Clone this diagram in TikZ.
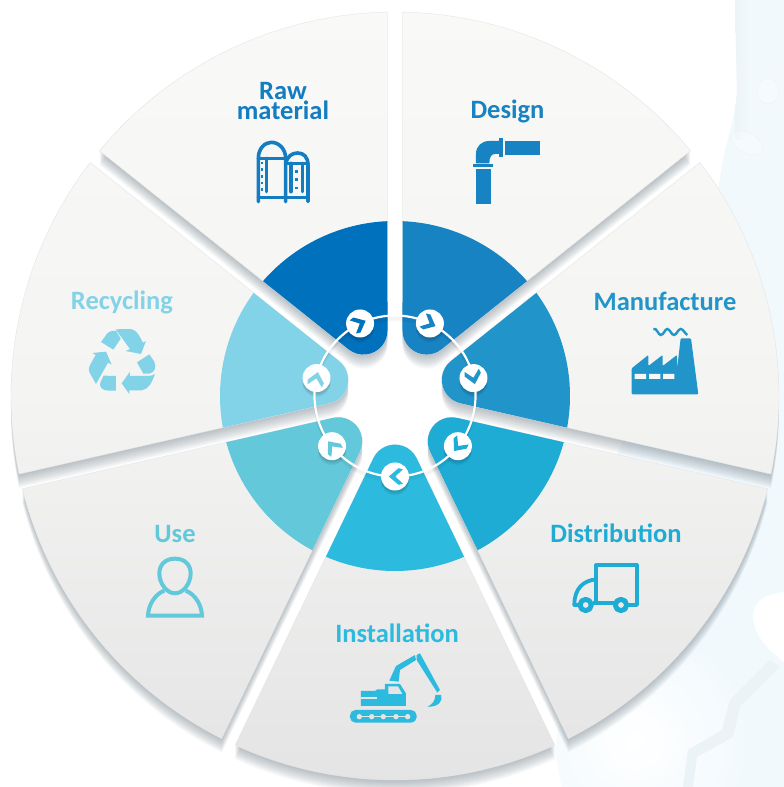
\documentclass[tikz,border=0pt]{standalone}
\usepackage{fontspec}
\setmainfont{Carlito}
\definecolor{cRaw}{HTML}{0071BC}
\definecolor{cDes}{HTML}{1783C3}
\definecolor{cMan}{HTML}{2195C9}
\definecolor{cDis}{HTML}{1EACD5}
\definecolor{cIns}{HTML}{2CBBDE}
\definecolor{cUse}{HTML}{62C8DA}
\definecolor{cRec}{HTML}{83D3E8}
\definecolor{bgblue}{HTML}{F1F9FD}
\definecolor{shadowc}{HTML}{6F7D88}
\definecolor{edgec}{HTML}{E4E5E6}
\definecolor{panelA}{HTML}{F9F9F8}
\definecolor{panelB}{HTML}{F4F4F3}
\definecolor{panelC}{HTML}{E3E4E3}
\newcommand{\wedgepath}[3]{%
 ({#1-25.714+#3}:#2) arc[start angle={#1-25.714+#3},end angle={#1+25.714-#3},radius=#2]
 -- ([shift={({#1+115.714}:24)}]#1:72.6)
 arc[start angle={#1+115.714},end angle={#1+244.286},radius=24] -- cycle}
\tikzset{
 pxc/.style={x=1bp,y=-1bp,shift={(-395bp,396bp)}},
 zm/.style 2 args={x=.33333bp,y=-.33333bp,shift={({(#1-395)*1bp},{(396-#2)*1bp})}},
 lab/.style={font=\bfseries\fontsize{26.5bp}{18bp}\selectfont,align=center,inner sep=0pt},
 hub/.style={circle,fill=white,minimum size=28bp,inner sep=0pt},
}
\begin{document}
\begin{tikzpicture}[x=1bp,y=1bp]
\path[use as bounding box,fill=white] (-395,396) rectangle (389,-391);
% background wash
\begin{scope}[pxc]
 \begin{scope}
  \clip (735,0) -- (737,90) .. controls (736,115) and (728,135) .. (722,165) -- (718,190) -- (600,500) -- (555,750) -- (562,787) -- (784,787) -- (784,0) -- cycle;
  \fill[bgblue] (500,0) rectangle (784,787);
  \shade[left color=black!2!bgblue,right color=bgblue] (735,0) rectangle (750,140);
  \shade[inner color=white,outer color=bgblue] (635,740) circle[radius=120];
  \fill[white] (784,592) .. controls (760,595) and (752,605) .. (753,618) .. controls (755,640) and (775,655) .. (784,662) -- cycle;
  \fill[black!2.5!bgblue] (780,667) -- (740,707) -- (733,737) -- (697,757) -- (693,787) -- (683,787) -- (688,750) -- (722,730) -- (730,700) -- (770,660) -- cycle;
 \end{scope}
 \draw[black!5,line width=.5bp,fill=white,fill opacity=.25] (768,91) ellipse[x radius=11,y radius=13];
 \draw[black!5,line width=.5bp,fill=white,fill opacity=.25,rotate around={-30:(747,143)}] (747,143) ellipse[x radius=17,y radius=10];
\end{scope}
% extruded shadows below all wedges
\foreach \m in {115.714,64.286,12.857,-38.571,-90,-141.429,-192.857}{
 \foreach \k in {1,...,14}{
  \fill[shadowc,opacity=.04,shift={(0,-\k)}] \wedgepath{\m}{384}{1.12};
 }
}
% grey panels with one shared vertical gradient
\foreach \m in {115.714,64.286,12.857,-38.571,-90,-141.429,-192.857}{
 \begin{scope}
  \clip \wedgepath{\m}{384}{1.12};
  \shade[top color=panelA,bottom color=panelC,middle color=panelB] (-395,396) rectangle (389,-391);
 \end{scope}
 \draw[edgec,line width=.4] \wedgepath{\m}{384}{1.12};
}
% coloured inner parts
\foreach \m/\c in {115.714/cRaw,64.286/cDes,12.857/cMan,-38.571/cDis,-90/cIns,-141.429/cUse,-192.857/cRec}{
 \fill[\c] \wedgepath{\m}{175}{2.46};
}
% ring and hubs
\foreach \k in {1,...,5}{
 \draw[black,opacity=.02,line width=2,shift={(0,-\k)}] (0,0) circle[radius=80.5];
 \foreach \m in {115.714,64.286,12.857,-38.571,-90,-141.429,-192.857}{
  \fill[black,opacity=.04,shift={(\m:80.5)},shift={(0,-\k)}] (0,0) circle[radius=14];
 }
}
\draw[white,line width=2.2] (0,0) circle[radius=80.5];
\node[hub] (hRaw) at (115.714:80.5) {};
\node[hub] (hDes) at (64.286:80.5) {};
\node[hub] (hMan) at (12.857:80.5) {};
\node[hub] (hDis) at (-38.571:80.5) {};
\node[hub] (hIns) at (-90:80.5) {};
\node[hub] (hUse) at (-141.429:80.5) {};
\node[hub] (hRec) at (-192.857:80.5) {};
\foreach \n/\m/\c in {hRaw/115.714/cRaw,hDes/64.286/cDes,hMan/12.857/cMan,hDis/-38.571/cDis,hIns/-90/cIns,hUse/-141.429/cUse,hRec/-192.857/cRec}{
 \fill[\c,shift={(\n.center)},rotate=\m-90] (6.2,0) -- (-3.5,8.3) -- (-8,7.3) -- (-0.3,0) -- (-8,-7.3) -- (-3.5,-8.3) -- cycle;
}
% labels
\begin{scope}[pxc]
 \node[lab,text=cRaw!92!white] (tRaw) at (283,101) {Raw\\material};
 \node[lab,text=cDes] (tDes) at (507.5,111.5) {Design};
 \node[lab,text=cMan] (tMan) at (665,301) {Manufacture};
 \node[lab,text=cDis] (tDis) at (616,533) {Distribution};
 \node[lab,text=cIns] (tIns) at (397,633) {Installation};
 \node[lab,text=cUse] (tUse) at (175,534) {Use};
 \node[lab,text=cRec] (tRec) at (122,302.5) {Recycling};
\end{scope}
% silo icon
\begin{scope}[zm={230}{80},cRaw!92!white,line width=3.6bp,line cap=round,line join=round]
 \draw (85,365) -- (85,235) .. controls (85,205) and (105,187) .. (124,187) .. controls (145,187) and (167,205) .. (167,235) -- (167,365);
 \draw (167,250) .. controls (172,230) and (185,219) .. (203,219) .. controls (222,219) and (234,232) .. (234,255) -- (234,365);
 \draw (85,235) -- (167,235);
 \draw (172,250) -- (234,250);
 \draw (85,352) -- (234,352);
 \draw (110,235) -- (110,335);
 \draw (183,250) -- (183,335);
 \draw (217,250) -- (217,335);
 \foreach \y in {245,265,285,305,325} \fill (92,\y) rectangle +(8,8);
 \foreach \y in {270,295,320} \fill (195,\y) rectangle +(8,8);
\end{scope}
% pipe icon
\begin{scope}[zm={230}{80},cDes]
 \fill (738,266) rectangle (783,372);
 \fill (730,252) rectangle (790,262);
 \fill (738,250) -- (738,222) .. controls (738,198) and (755,183) .. (778,183) -- (808,183) -- (808,222) -- (795,222) .. controls (785,222) and (778,230) .. (778,250) -- cycle;
 \fill (808,175) rectangle (820,232);
 \fill (825,183) rectangle (930,225);
\end{scope}
% factory icon
\begin{scope}[zm={590}{280}]
 \fill[cMan,rounded corners=1bp] (125,343) -- (125,265) -- (175,225) -- (175,258) -- (218,225) -- (218,258) -- (261,225) -- (261,270) -- (272,175) -- (303,175) -- (325,343) -- cycle;
 \fill[black!3] (134,282) rectangle (168,297) (177,282) rectangle (211,297) (219,282) rectangle (253,297);
 \draw[cMan,line width=2.4bp] (190,147) .. controls (200,142) and (205,165) .. (212,165) .. controls (222,165) and (224,147) .. (232,147) .. controls (240,147) and (244,165) .. (252,165) .. controls (260,165) and (264,147) .. (272,147) .. controls (280,147) and (284,160) .. (292,165);
\end{scope}
% truck icon
\begin{scope}[zm={540}{510},cDis,line width=3.8bp,line join=round]
 \draw (168,280) -- (168,166) -- (291,166) -- (291,285) -- (260,285);
 \draw (225,280) -- (160,280);
 \draw (168,208) .. controls (130,212) and (103,235) .. (103,285) -- (115,285);
 \draw[line width=5bp] (137,285) circle[radius=17];
 \draw[line width=5bp] (243,285) circle[radius=17];
\end{scope}
% excavator icon
\begin{scope}[zm={320}{610},cIns]
 \fill[rounded corners=5.5bp] (90,300) rectangle (290,338);
 \draw[black!10,line width=.6bp] (118,320) -- (263,320);
 \foreach \x in {118,155,190,228,263} \fill[black!10] (\x,320) circle[radius=8];
 \fill (123,243) -- (165,243) -- (172,238) -- (195,238) -- (195,222) -- (240,222) -- (258,250) -- (258,288) -- (123,288) -- cycle;
 \fill[black!10] (123,262) rectangle (170,266);
 \fill[black!10] (205,229) -- (234,229) -- (247,252) -- (205,252) -- cycle;
 \fill (208,212) -- (228,168) -- (285,135) -- (288,150) -- (240,180) -- (236,215) -- cycle;
 \fill (290,135) -- (300,130) -- (360,240) -- (352,248) -- (290,150) -- cycle;
 \fill (346,255) -- (363,255) .. controls (370,270) and (358,292) .. (322,290) .. controls (338,284) and (346,270) .. (346,255) -- cycle;
\end{scope}
% person icon
\begin{scope}[zm={120}{520},cUse,line width=4bp,line join=miter]
 \draw (165,116) .. controls (195,116) and (212,135) .. (212,160) .. controls (212,190) and (190,220) .. (165,220) .. controls (140,220) and (118,190) .. (118,160) .. controls (118,135) and (135,116) .. (165,116) -- cycle;
 \draw (133,212) .. controls (105,222) and (85,255) .. (84,287) -- (246,287) .. controls (245,255) and (225,222) .. (197,212);
\end{scope}
% recycling icon
\begin{scope}[zm={60}{280},cRec]
 \fill (123,186) -- (142,160) .. controls (150,152) and (160,152) .. (168,152) -- (182,176) -- (160,209) -- cycle;
 \fill (167,148) -- (212,147) .. controls (226,150) and (232,158) .. (238,168) -- (249,188) -- (258,183) -- (243,222) -- (197,213) -- (210,207) -- cycle;
 \fill (231,247) -- (268,223) -- (283,245) .. controls (290,260) and (285,278) .. (268,281) -- (250,281) -- cycle;
 \fill (285,282) .. controls (275,310) and (265,328) .. (245,331) -- (208,331) -- (208,342) -- (185,310) -- (210,275) -- (210,288) -- (262,288) .. controls (272,288) and (280,286) .. (285,282) -- cycle;
 \fill (168,288) -- (168,332) -- (145,332) .. controls (125,332) and (115,318) .. (122,305) -- (131,287) -- cycle;
 \fill (108,312) -- (90,280) .. controls (85,270) and (86,262) .. (90,255) -- (107,225) -- (97,219) -- (138,215) -- (155,254) -- (144,248) -- cycle;
\end{scope}
\end{tikzpicture}
\end{document}
